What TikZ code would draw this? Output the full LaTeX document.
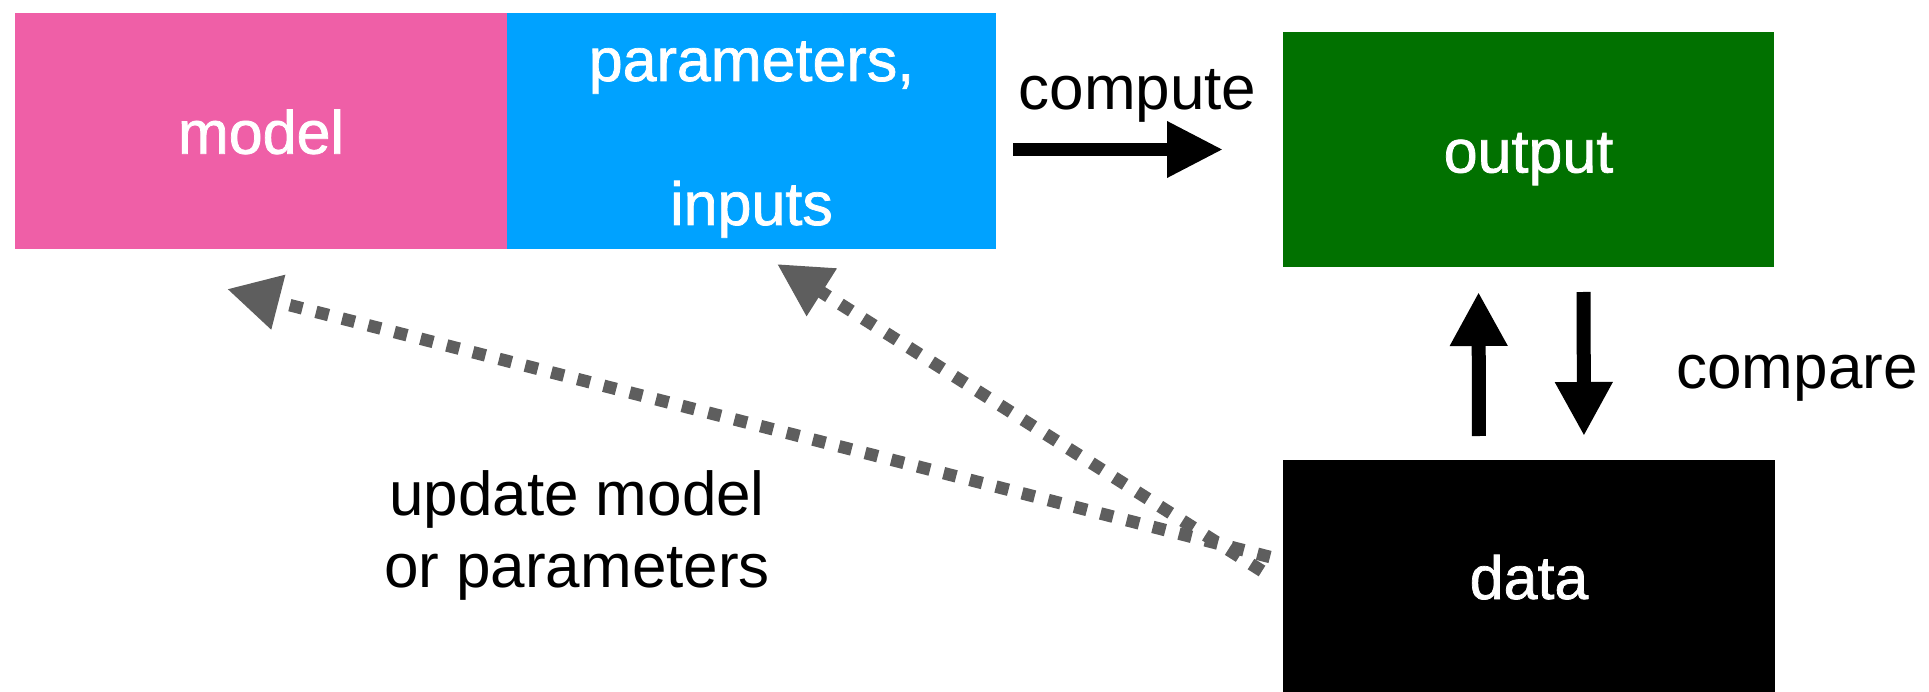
\documentclass[tikz,border=0pt]{standalone}
\usepackage{fontspec}
\setmainfont{Liberation Sans}
\newfontfamily\blockfont[FakeBold=1.2]{Liberation Sans}
\usetikzlibrary{arrows.meta}

\definecolor{modelpink}{HTML}{EF5FA7}
\definecolor{parblue}{HTML}{00A2FF}
\definecolor{outgreen}{HTML}{017100}
\definecolor{fbgray}{HTML}{5E5E5E}

\begin{document}
\begin{tikzpicture}[x=1pt, y=-1pt,
  box/.style={rectangle, draw=none, inner sep=0pt, outer sep=0pt,
    text=white, font=\blockfont\fontsize{61}{72}\selectfont,
    text height=46pt, text depth=0pt},
  boxtext/.style={inner sep=0pt, text=white, font=\blockfont\fontsize{61}{72}\selectfont},
  lbl/.style={inner sep=0pt, text=black, font=\fontsize{62}{72}\selectfont},
  flow/.style={draw=black, line width=13pt,
    -{Triangle[length=56pt, width=53pt]}},
  vflow/.style={draw=black, line width=14pt,
    -{Triangle[length=54pt, width=54pt]}},
  feedback/.style={draw=fbgray, line width=12.5pt, dash pattern=on 13pt off 14pt,
    -{Triangle[length=53pt, width=53pt]}}]

\useasboundingbox (0,0) rectangle (1929,692);

% the four blocks
\node[box, fill=modelpink, minimum width=492pt, minimum height=236pt]
  (model) at (261,130.7) {model};
\node[box, fill=parblue, minimum width=489pt, minimum height=236pt]
  (params) at (751.5,130.7) {};
\node[boxtext, anchor=base] (partop) at ([yshift=49.7pt]params.center) {parameters,};
\node[boxtext, anchor=base] (parbot) at ([yshift=-94.3pt]params.center) {inputs};
\node[box, fill=outgreen, minimum width=491pt, minimum height=235pt]
  (output) at (1528.5,149.5) {output};
\node[box, fill=black, minimum width=492pt, minimum height=232pt]
  (data) at (1529,576) {data};

% plain labels
\node[lbl, anchor=base] (computelbl) at (1137.5,110) {compute};
\node[lbl, anchor=base] (comparelbl) at (1797,388) {compare};
\node[lbl, anchor=base] (updatelbl) at (577,515)
  {\begin{tabular}[t]{@{}c@{}}update model\\or parameters\end{tabular}};

% compute step
\draw[flow, shorten <=17pt, shorten >=60pt] (params.east |- output.west) -- (output.west);

% compare steps
\draw[vflow, shorten <=24pt, shorten >=25pt]
  ([xshift=-50pt]data.north) -- ([xshift=-50pt]output.south);
\draw[vflow, shorten <=25pt, shorten >=24pt]
  ([xshift=55pt]output.south) -- ([xshift=55pt]data.north);

% feedback from the data
\coordinate (tailmodel) at ([shift={(-13,-19)}]data.west);
\coordinate (tailparams) at ([shift={(-21,-5)}]data.west);
\coordinate (tipmodel) at ([shift={(-34,40.3)}]model.south);
\coordinate (tipparams) at ([shift={(25.5,15.3)}]params.south);
\draw[feedback] (tailmodel) -- (tipmodel);
\draw[feedback] (tailparams) -- (tipparams);

\end{tikzpicture}
\end{document}
